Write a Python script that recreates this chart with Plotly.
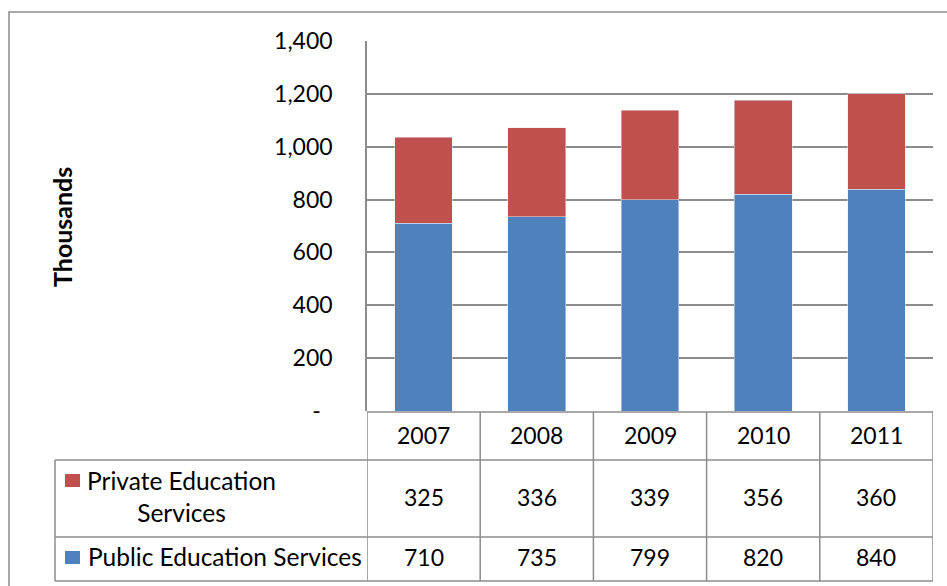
import plotly.graph_objects as go

years = ["2007", "2008", "2009", "2010", "2011"]
private_vals = [325, 336, 339, 356, 360]
public_vals = [710, 735, 799, 820, 840]
series_names = ["Private Education<br>Services", "Public Education Services"]
y_tickvals = [0, 200, 400, 600, 800, 1000, 1200, 1400]
y_ticktext = ["-\u00a0\u00a0", "200", "400", "600", "800", "1,000", "1,200", "1,400"]

W, H = 947, 586
L, R, T, B = 367, 14, 41, 175
PW, PH = W - L - R, H - T - B

def px(x):
    return (x - L) / PW

def py(y):
    return (H - B - y) / PH

BLUE = "#4F81BD"
RED = "#C0504D"
GRID = "#8C8C8C"
FONT = "Lato"
FSN = 23
FST = 24.5

fig = go.Figure()
fig.add_trace(go.Bar(x=years, y=public_vals, marker=dict(color=BLUE), name="Public"))
fig.add_trace(go.Bar(x=years, y=private_vals, marker=dict(color=RED), name="Private"))

shapes = []
ann = []
line = dict(color=GRID, width=1.5)

# outer chart border
shapes.append(dict(type="rect", xref="paper", yref="paper", x0=px(9), x1=px(990),
                   y0=py(620), y1=py(12), line=line, fillcolor="rgba(0,0,0,0)", layer="below"))

# table lines
rows_y = [py(412), py(460), py(537), py(581)]
n = len(years)
shapes.append(dict(type="line", xref="x", yref="paper", x0=-0.5, x1=n - 0.5, y0=rows_y[0], y1=rows_y[0], line=line))
for yy in rows_y[1:]:
    shapes.append(dict(type="line", xref="paper", yref="paper", x0=px(55), x1=px(L + PW), y0=yy, y1=yy, line=line))
for i in range(n + 1):
    shapes.append(dict(type="line", xref="x", yref="paper", x0=i - 0.5, x1=i - 0.5, y0=rows_y[0], y1=rows_y[3], line=line))
shapes.append(dict(type="line", xref="paper", yref="paper", x0=px(55), x1=px(55), y0=rows_y[1], y1=rows_y[3], line=line))

# legend swatches
shapes.append(dict(type="rect", xref="paper", yref="paper", x0=px(65), x1=px(80), y0=py(487), y1=py(474),
                   fillcolor=RED, line=dict(width=0)))
shapes.append(dict(type="rect", xref="paper", yref="paper", x0=px(65), x1=px(80), y0=py(564), y1=py(551),
                   fillcolor=BLUE, line=dict(width=0)))

def txt(x, y, text, xref="paper", size=FSN, **kw):
    d = dict(x=x, y=y, xref=xref, yref="paper", text=text, showarrow=False,
             xanchor="center", yanchor="middle",
             font=dict(size=size, color="#000", family=FONT))
    d.update(kw)
    return d

for i, yr in enumerate(years):
    ann.append(txt(i, py(435), yr, xref="x"))
    ann.append(txt(i, py(497), str(private_vals[i]), xref="x"))
    ann.append(txt(i, py(557), str(public_vals[i]), xref="x"))

ann.append(txt(px(181), py(496), series_names[0], size=FST, align="center"))
ann.append(txt(px(86), py(556), series_names[1], size=FST, xanchor="left"))
ann.append(txt(px(62), py(227), "<b>Thousands</b>", size=25, textangle=-90))

fig.update_layout(
    width=W, height=H,
    margin=dict(l=L, r=R, t=T, b=B, pad=0),
    barmode="stack",
    bargap=0.49,
    showlegend=False,
    plot_bgcolor="white",
    paper_bgcolor="white",
    shapes=shapes,
    annotations=ann,
    xaxis=dict(type="category", range=[-0.5, n - 0.5], showticklabels=False, showgrid=False,
               zeroline=False, showline=False, ticks=""),
    yaxis=dict(range=[0, 1400], tickvals=y_tickvals, ticktext=y_ticktext, showgrid=True,
               gridcolor=GRID, gridwidth=1.5, zeroline=False, showline=True, linecolor=GRID,
               linewidth=1.5, ticks="", ticklabelstandoff=28,
               tickfont=dict(size=FSN, color="#000", family=FONT)),
)

fig.write_html("out.html", config={"displayModeBar": False},
               post_script="document.body.style.margin='0px';document.body.style.overflow='hidden';")
